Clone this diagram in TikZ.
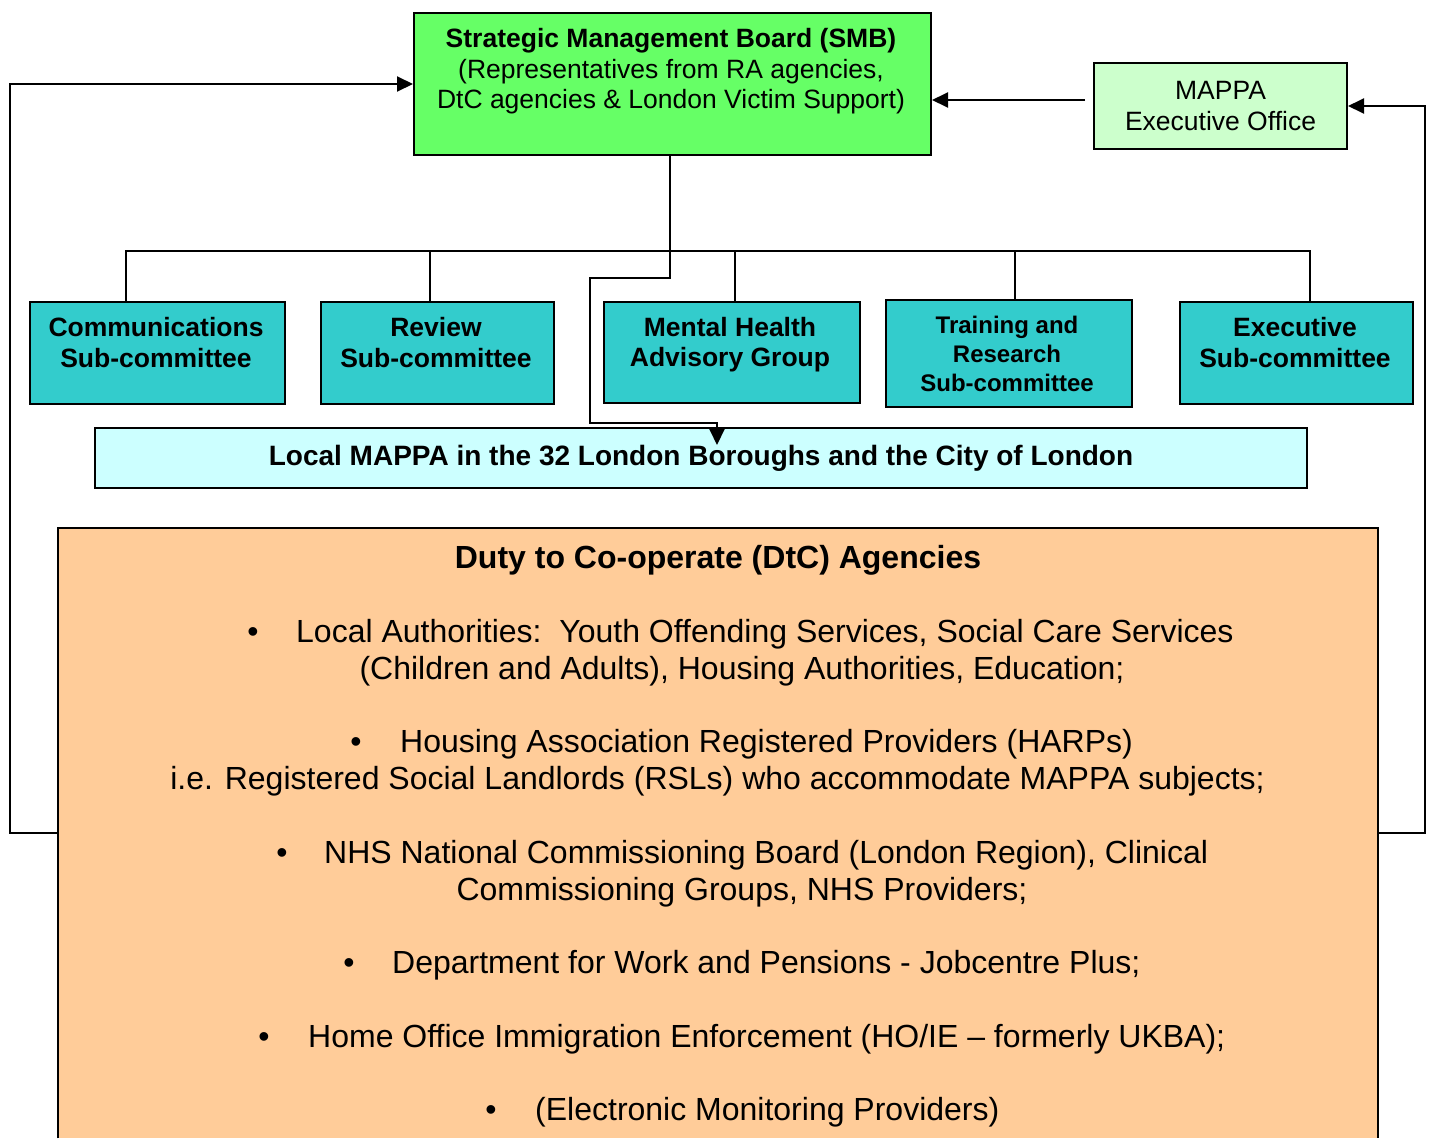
\documentclass[tikz,border=0pt]{standalone}
\usepackage{fontspec}
\setmainfont{Liberation Sans}
\usetikzlibrary{arrows.meta}
\definecolor{smbgreen}{HTML}{66FF66}
\definecolor{mappagreen}{HTML}{CCFFCC}
\definecolor{subteal}{HTML}{33CCCC}
\definecolor{localcyan}{HTML}{CCFFFF}
\definecolor{dtcorange}{HTML}{FFCC99}
\begin{document}
\begin{tikzpicture}[x=1pt,y=-1pt,
  box/.style={draw, line width=2pt, inner sep=0pt, anchor=north west},
  conn/.style={line width=2pt},
  arr/.style={conn, -{Triangle[length=16pt,width=15pt]}},
  mid/.style={font=\fontsize{26.5}{30.5}\selectfont, align=center, inner sep=0pt},
  midbold/.style={font=\fontsize{26.5}{30.5}\selectfont\bfseries, align=center, inner sep=0pt},
  smallbold/.style={font=\fontsize{24}{29}\selectfont\bfseries, align=center, inner sep=0pt},
  body/.style={font=\fontsize{32}{37}\selectfont, inner sep=0pt},
  bodyw/.style={body, anchor=base west},
  bodyc/.style={body, anchor=base},
]
\useasboundingbox (0,0) rectangle (1431,1138);

% Strategic Management Board
\node[box, fill=smbgreen, minimum width=517pt, minimum height=142pt] (smb) at (413,12) {};
\node[mid] (smbtext) at (671,71.5) {\textbf{Strategic Management Board (SMB)}\\(Representatives from RA agencies,\\DtC agencies \& London Victim Support)};

% MAPPA Executive Office
\node[box, fill=mappagreen, minimum width=253pt, minimum height=86pt, mid] (mappa) at (1093,62) {MAPPA\\Executive Office};

% Sub-committees
\node[box, fill=subteal, minimum width=255pt, minimum height=102pt] (comms) at (29,301) {};
\node[midbold] (commstext) at (156,342.5) {Communications\\Sub-committee};
\node[box, fill=subteal, minimum width=233pt, minimum height=102pt] (review) at (320,301) {};
\node[midbold] (reviewtext) at (436,342.5) {Review\\Sub-committee};
\node[box, fill=subteal, minimum width=256pt, minimum height=101pt] (mh) at (603,301) {};
\node[midbold] (mhtext) at (730,344.5) {Mental Health\\Advisory Group};
\node[box, fill=subteal, minimum width=246pt, minimum height=107pt] (training) at (885,299) {};
\node[smallbold] (trainingtext) at (1007,354) {Training and\\Research\\Sub-committee};
\node[box, fill=subteal, minimum width=233pt, minimum height=102pt] (exec) at (1179,301) {};
\node[midbold] (exectext) at (1295,342.5) {Executive\\Sub-committee};

% Local MAPPA
\node[box, fill=localcyan, minimum width=1212pt, minimum height=60pt, font=\fontsize{28}{32}\selectfont\bfseries] (local) at (94,427) {Local MAPPA in the 32 London Boroughs and the City of London};

% DtC agencies
\node[anchor=north west, fill=dtcorange, inner sep=0pt, minimum width=1320pt, minimum height=610pt] (dtc) at (58,528) {};
\draw[conn] (dtc.south west) -- (dtc.north west) -- (dtc.north east) -- (dtc.south east);

\node[body, font=\fontsize{32}{37}\selectfont\bfseries, anchor=base] (dtctitle) at (718,568.5) {Duty to Co-operate (DtC) Agencies};

\node[bodyc] (b1) at (253,642.5) {•};
\node[bodyw] (l1a) at (296,642.5) {Local Authorities:\ \ Youth Offending Services, Social Care Services};
\node[bodyc] (l1b) at (742,679.5) {(Children and Adults), Housing Authorities, Education;};

\node[bodyc] (b2) at (356,752.5) {•};
\node[bodyw] (l2a) at (400,752.5) {Housing Association Registered Providers (HARPs)};
\node[bodyc] (l2b) at (717.5,789.5) {i.e. Registered Social Landlords (RSLs) who accommodate MAPPA subjects;};

\node[bodyc] (b3) at (282,863.5) {•};
\node[bodyw] (l3a) at (324,863.5) {NHS National Commissioning Board (London Region), Clinical};
\node[bodyc] (l3b) at (742,900.5) {Commissioning Groups, NHS Providers;};

\node[bodyc] (b4) at (349,973.5) {•};
\node[bodyw] (l4a) at (392,973.5) {Department for Work and Pensions - Jobcentre Plus;};

\node[bodyc] (b5) at (264,1047.5) {•};
\node[bodyw] (l5a) at (308,1047.5) {Home Office Immigration Enforcement (HO/IE – formerly UKBA);};

\node[bodyc] (b6) at (491,1120.5) {•};
\node[bodyw] (l6a) at (535,1120.5) {(Electronic Monitoring Providers)};

% Connectors
\draw[arr] ([shift={(-8pt,6pt)}]mappa.west) coordinate (mw) -- (smb.east |- mw);
\draw[arr] (dtc.west) -- ++(-48,0) |- (smb.west);
\draw[arr] (dtc.east) -- ++(47,0) |- (mappa.east);

% bus to sub-committees
\draw[conn] ([xshift=-31.5pt]comms.north) -- ++(0,-50) -| ([xshift=13.5pt]exec.north);
\draw[conn] ([xshift=-7.5pt]review.north) -- ++(0,-50);
\draw[conn] ([xshift=2.5pt]mh.north) -- ++(0,-50);
\draw[conn] ([xshift=6pt]training.north) -- ++(0,-48);

% SMB down to Local MAPPA
\draw[arr] ([xshift=-2.5pt]smb.south) -- ++(0,122) -- ++(-80,0) -- ++(0,145) -- ++(127,0) -- ++(0,22);
\end{tikzpicture}
\end{document}
